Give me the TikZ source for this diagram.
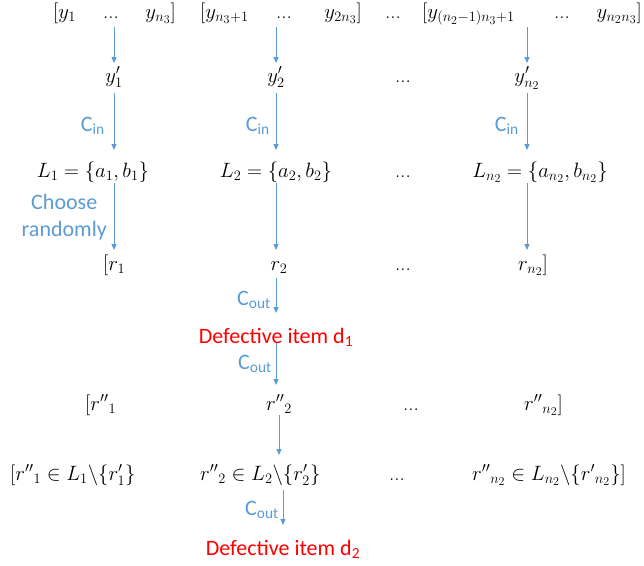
\documentclass[tikz,border=0pt]{standalone}
\usepackage{fontspec}
\usepackage{amsmath}
\newfontfamily\lblfont{Carlito}
\usetikzlibrary{arrows.meta}
\definecolor{ablue}{HTML}{5B9BD5}
\definecolor{dred}{HTML}{FF0000}
\DeclareMathSizes{21}{21}{15.5}{11.5}
\begin{document}
\begin{tikzpicture}[x=1pt,y=-1pt,
  mth/.style={inner sep=0pt, font=\fontsize{21}{24}\selectfont},
  lbl/.style={inner sep=0pt, text=ablue, font=\lblfont\fontsize{22}{27}\selectfont, align=center},
  deflbl/.style={inner sep=0pt, text=dred, font=\lblfont\fontsize{22}{26}\selectfont},
  conn/.style={draw=ablue, line width=0.9pt, -{Triangle[length=6pt,width=5pt]}},
]
\useasboundingbox (0,0) rectangle (644,565);
% row 0
\node[mth, anchor=base west] (t1a) at (53,18) {$[y_1$};
\node[mth, anchor=base] (t1b) at (111,18) {...};
\node[mth, anchor=base east] (t1c) at (176,18) {$y_{n_3}]$};
\node[mth, anchor=base west] (t2a) at (200,18) {$[y_{n_3+1}$};
\node[mth, anchor=base] (t2b) at (284,18) {...};
\node[mth, anchor=base east] (t2c) at (362,18) {$y_{2n_3}]$};
\node[mth, anchor=base] (t0d) at (393,18) {...};
\node[mth, anchor=base west] (t3a) at (422,18) {$[y_{(n_2-1)n_3+1}$};
\node[mth, anchor=base] (t3b) at (562,18) {...};
\node[mth, anchor=base east] (t3c) at (642,18) {$y_{n_2n_3}]$};
% row 1
\node[mth, anchor=base] (yp1) at (114,82) {$y'_1$};
\node[mth, anchor=base] (yp2) at (276,82) {$y'_2$};
\node[mth, anchor=base] (ypd) at (403,82) {...};
\node[mth, anchor=base] (yp3) at (527,82) {$y'_{n_2}$};
% row 2
\node[mth, anchor=base] (L1) at (93,177) {$L_1=\{a_1,b_1\}$};
\node[mth, anchor=base] (L2) at (276,177) {$L_2=\{a_2,b_2\}$};
\node[mth, anchor=base] (Ld) at (403,177) {...};
\node[mth, anchor=base] (L3) at (540,177) {$L_{n_2}=\{a_{n_2},b_{n_2}\}$};
% row 3
\node[mth, anchor=base west] (r1) at (103,270) {$[r_1$};
\node[mth, anchor=base] (r2) at (279,270) {$r_2$};
\node[mth, anchor=base] (rd) at (403,270) {...};
\node[mth, anchor=base east] (r3) at (548,270) {$r_{n_2}]$};
% defective 1
\node[deflbl, anchor=base] (d1) at (276,343) {Defective item d\textsubscript{1}};
% row 4
\node[mth, anchor=base west] (rr1) at (85,410) {$[{r''}_1$};
\node[mth, anchor=base] (rr2) at (279,410) {${r''}_2$};
\node[mth, anchor=base] (rrd) at (411,410) {...};
\node[mth, anchor=base east] (rr3) at (563,410) {${r''}_{n_2}]$};
% row 5
\node[mth, anchor=base west] (m1) at (10,480) {$[{r''}_1\in L_1\backslash\{r'_1\}$};
\node[mth, anchor=base west] (m2) at (200,480) {${r''}_2\in L_2\backslash\{r'_2\}$};
\node[mth, anchor=base] (md) at (397,480) {...};
\node[mth, anchor=base east] (m3) at (626,480) {${r''}_{n_2}\in L_{n_2}\backslash\{{r'}_{n_2}\}]$};
% defective 2
\node[deflbl, anchor=base] (d2) at (283,555) {Defective item d\textsubscript{2}};
% labels
\node[lbl, anchor=base east] (cin1) at (105,131) {C\textsubscript{in}};
\node[lbl, anchor=base east] (cin2) at (270,131) {C\textsubscript{in}};
\node[lbl, anchor=base east] (cin3) at (519,131) {C\textsubscript{in}};
\node[lbl, anchor=east] (choose) at (107,217) {Choose\\randomly};
\node[lbl, anchor=base east] (cout1) at (271,305) {C\textsubscript{out}};
\node[lbl, anchor=base east] (cout2) at (272,369) {C\textsubscript{out}};
\node[lbl, anchor=base east] (cout3) at (279,515) {C\textsubscript{out}};
% arrows column 1
\draw[conn, shorten <=9pt, shorten >=19pt] (t1b.base -| yp1) -- (yp1.base);
\draw[conn, shorten <=11pt, shorten >=27pt] (yp1.base) -- (L1.base -| yp1);
\draw[conn, shorten <=6pt, shorten >=20pt] (L1.base -| yp1) -- (r1.base -| yp1);
% column 2
\draw[conn, shorten <=9pt, shorten >=19pt] (t2b.base -| yp2) -- (yp2.base);
\draw[conn, shorten <=11pt, shorten >=27pt] (yp2.base) -- (L2.base);
\draw[conn, shorten <=6pt, shorten >=20pt] (L2.base) -- (r2.base -| L2);
\draw[conn, shorten <=8pt, shorten >=30pt] (r2.base -| d1) -- (d1.base);
\draw[conn, shorten <=0pt, shorten >=25pt] (d1.base) -- (rr2.base -| d1);
\draw[conn, shorten <=5pt, shorten >=25pt] (rr2.base) -- (m2.base -| rr2);
\draw[conn, shorten <=10pt, shorten >=30pt] (m2.base -| d2) -- (d2.base);
% column 3
\draw[conn, shorten <=9pt, shorten >=19pt] (t3b.base -| yp3) -- (yp3.base);
\draw[conn, shorten <=11pt, shorten >=27pt] (yp3.base) -- (L3.base -| yp3);
\draw[conn, shorten <=6pt, shorten >=20pt] (L3.base -| yp3) -- (r3.base -| yp3);
\end{tikzpicture}
\end{document}
